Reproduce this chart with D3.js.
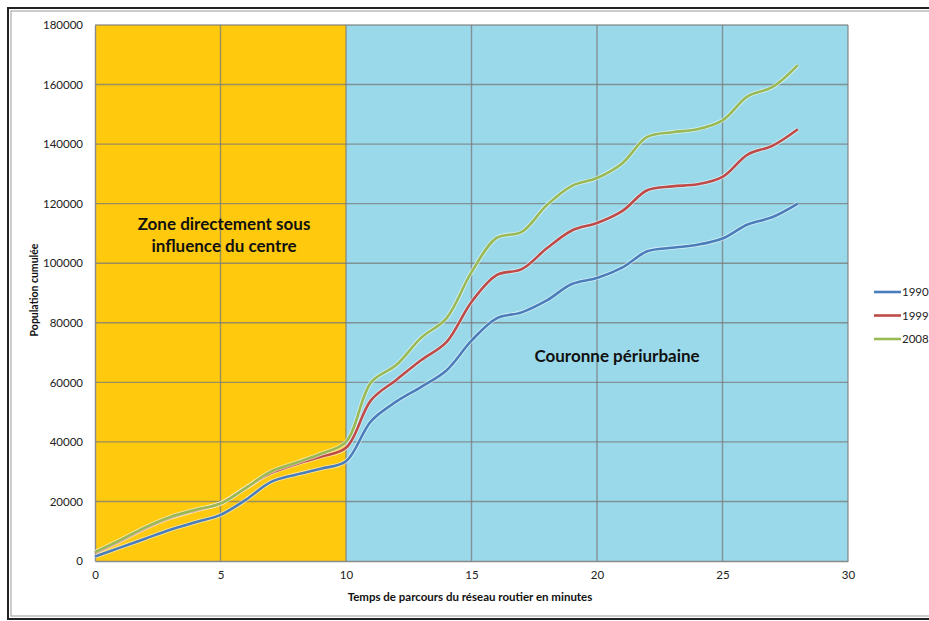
<!DOCTYPE html>
<html><head><meta charset="utf-8">
<script src="https://cdn.jsdelivr.net/npm/d3@7"></script>
<style>body{margin:0;background:#fff}svg{display:block}</style>
</head><body>
<svg id="c" width="929" height="621"></svg>
<script>
const minutes = [0,1,2,3,4,5,6,7,8,9,10,11,12,13,14,15,16,17,18,19,20,21,22,23,24,25,26,27,28];
const pop1990 = [1500,4500,7500,10500,13000,15500,20500,26500,29000,31000,33500,47000,53500,58500,64000,74000,81500,83500,87500,93000,95000,98500,104000,105200,106200,108300,113000,115500,120000];
const pop1999 = [2700,6700,11000,14500,17000,19300,24500,29500,32500,35000,38000,54000,60800,67500,73500,87000,96000,98000,105000,111000,113500,117500,124500,125800,126500,129000,136500,139500,145000];
const pop2008 = [3000,7000,11300,14800,17200,19300,24500,30000,33000,36000,40000,60000,65800,75000,81500,97000,108500,110500,119500,126000,128600,133500,142400,144000,145000,148000,156000,159200,166500];
const seriesNames = ["1990","1999","2008"];
const seriesColors = ["#4a7ebb","#be4b48","#98b954"];
const xTicks = [0,5,10,15,20,25,30];
const yTicks = [0,20000,40000,60000,80000,100000,120000,140000,160000,180000];
const zones = [{from:0,to:10,color:"#ffc90e"},{from:10,to:30,color:"#99d9ea"}];
const zoneLabels = [{x:5.14,y:111200,lines:["Zone directement sous","influence du centre"]},{x:20.8,y:66800,lines:["Couronne périurbaine"]}];

const svg = d3.select("#c");
const font = "Lato, 'Open Sans', sans-serif";
// frame
svg.append("rect").attr("x",8).attr("y",8).attr("width",940).attr("height",611).attr("fill","none").attr("stroke","#222").attr("stroke-width",2);
svg.append("rect").attr("x",11).attr("y",11).attr("width",940).attr("height",605).attr("fill","none").attr("stroke","#999").attr("stroke-width",1);

const x = d3.scaleLinear().domain([0,30]).range([95,848]);
const y = d3.scaleLinear().domain([0,180000]).range([561,25]);

svg.selectAll("rect.zone").data(zones).enter().append("rect").attr("class","zone")
  .attr("x",d=>x(d.from)).attr("width",d=>x(d.to)-x(d.from))
  .attr("y",y(180000)).attr("height",y(0)-y(180000)).attr("fill",d=>d.color);

// grid
svg.append("g").selectAll("line").data(yTicks.filter(v=>v>0)).enter().append("line")
  .attr("x1",x(0)).attr("x2",x(30)).attr("y1",d=>y(d)).attr("y2",d=>y(d))
  .attr("stroke","#7a7a7a").attr("stroke-opacity",0.75).attr("stroke-width",1.4);
svg.append("g").selectAll("line").data(xTicks.filter(v=>v>0)).enter().append("line")
  .attr("y1",y(0)).attr("y2",y(180000)).attr("x1",d=>x(d)).attr("x2",d=>x(d))
  .attr("stroke","#7a7a7a").attr("stroke-opacity",0.75).attr("stroke-width",1.4);

// axes
const xa = svg.append("g").attr("transform",`translate(0,${y(0)})`).call(d3.axisBottom(x).tickValues(xTicks).tickSize(0).tickPadding(10));
const ya = svg.append("g").attr("transform",`translate(${x(0)},0)`).call(d3.axisLeft(y).tickValues(yTicks).tickFormat(d3.format("d")).tickSize(0).tickPadding(12));
[xa,ya].forEach(a=>{a.select(".domain").attr("stroke","#8a8a8a").attr("stroke-width",1.4);
  a.selectAll("text").attr("font-family",font).attr("font-size",11.5).attr("fill","#222");});

// lines
const data = [pop1990,pop1999,pop2008];
const line = d3.line().x((d,i)=>x(minutes[i])).y(d=>y(d)).curve(d3.curveCatmullRom.alpha(0.5));
data.forEach((s,k)=>{
  svg.append("path").attr("d",line(s)).attr("fill","none").attr("stroke","#fff").attr("stroke-opacity",0.6).attr("stroke-width",4.2);
  svg.append("path").attr("d",line(s)).attr("fill","none").attr("stroke",seriesColors[k]).attr("stroke-width",2.6);
});

// zone labels
zoneLabels.forEach(z=>{
  const t = svg.append("text").attr("x",x(z.x)).attr("y",y(z.y)).attr("text-anchor","middle")
    .attr("font-family",font).attr("font-weight","bold").attr("font-size",17).attr("fill","#111");
  z.lines.forEach((l,i)=>t.append("tspan").attr("x",x(z.x)).attr("dy",i?22:0).text(l));
});

// axis titles
svg.append("text").attr("x",470).attr("y",601).attr("text-anchor","middle").attr("font-family",font)
  .attr("font-weight","bold").attr("font-size",11.5).attr("fill","#111").text("Temps de parcours du réseau routier en minutes");
svg.append("text").attr("transform","translate(38,290) rotate(-90)").attr("text-anchor","middle").attr("font-family",font)
  .attr("font-weight","bold").attr("font-size",10.5).attr("fill","#111").text("Population cumulée");

// legend
const lg = svg.append("g").selectAll("g").data(seriesNames).enter().append("g")
  .attr("transform",(d,i)=>`translate(874,${292+i*23.5})`);
lg.append("line").attr("x1",0).attr("x2",27).attr("stroke",(d,i)=>seriesColors[i]).attr("stroke-width",2.6);
lg.append("text").attr("x",28).attr("dy","0.35em").attr("font-family",font).attr("font-size",11.5).attr("fill","#222").text(d=>d);
</script>
</body></html>
